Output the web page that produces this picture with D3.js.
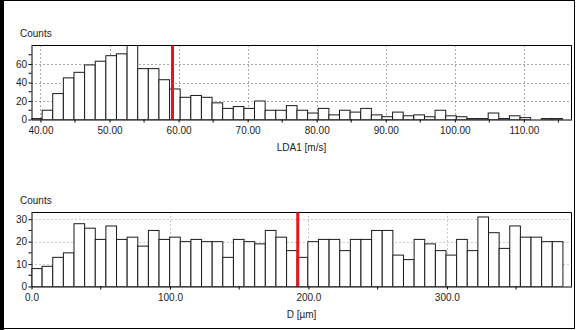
<!DOCTYPE html>
<html>
<head>
<meta charset="utf-8">
<script src="https://cdn.jsdelivr.net/npm/d3@7"></script>
<style>
  html, body { margin: 0; padding: 0; background: #fff; }
  svg { display: block; font-family: "Liberation Sans", Arial, sans-serif; }
  text { fill: #222; font-size: 10px; }
</style>
</head>
<body>
<svg id="chart" width="576" height="330"></svg>
<script>
// ---- Velocity histogram (LDA1) ----
const ldaBinStart = 38.7;      // m/s, lower edge of first bin
const ldaBinWidth = 1.538;     // m/s per bin
const ldaCounts = [1, 10, 28, 45, 51, 59, 63, 69, 71, 84, 55, 55, 43, 33, 24, 26, 24, 18, 12, 14,
                   12, 20, 10, 10, 15, 10, 7, 12, 5, 10, 8, 12, 5, 3, 8, 4, 5, 3, 10, 4,
                   3, 1, 1, 7, 1, 4, 2, 0, 1, 1];
const ldaMarker = 59.12;       // m/s
const ldaXDomain = [38.7, 116.9];
const ldaYMax = 80;
const ldaXMajor = [40, 50, 60, 70, 80, 90, 100, 110];
const ldaXMinor = [45, 55, 65, 75, 85, 95, 105, 115];
const ldaYMajor = [0, 20, 40, 60];
const ldaYMinor = [10, 30, 50, 70];

// ---- Diameter histogram (D) ----
const dBinStart = 0;           // µm
const dBinWidth = 7.676;       // µm per bin
const dCounts = [8, 9, 13, 15, 28, 26, 21, 27, 21, 22, 18, 25, 21, 22, 20, 21, 20, 20, 13, 21,
                 20, 19, 25, 22, 16, 13, 20, 21, 21, 16, 21, 21, 25, 25, 14, 12, 21, 19, 16, 14,
                 21, 16, 31, 24, 17, 27, 22, 22, 20, 20];
const dMarker = 192.3;         // µm
const dXDomain = [0, 390];
const dYMax = 33;
const dXMajor = [0, 100, 200, 300];
const dXMinor = [50, 150, 250, 350];
const dYMajor = [0, 10, 20, 30];
const dYMinor = [5, 15, 25];

const svg = d3.select("#chart");

// outer frame of the window
svg.append("rect").attr("x", 0.5).attr("y", 0.5).attr("width", 574).attr("height", 328)
  .attr("fill", "none").attr("stroke", "#000");
svg.append("rect").attr("x", 0).attr("y", 0).attr("width", 4).attr("height", 330).attr("fill", "#000");

function histogram(cfg) {
  const g = svg.append("g");
  const x = d3.scaleLinear().domain(cfg.xDomain).range([cfg.left, cfg.right]);
  const y = d3.scaleLinear().domain([0, cfg.yMax]).range([cfg.bottom, cfg.top]);
  const clipId = "clip-" + cfg.id;
  svg.append("clipPath").attr("id", clipId).append("rect")
    .attr("x", cfg.left).attr("y", cfg.top).attr("width", cfg.right - cfg.left).attr("height", cfg.bottom - cfg.top);

  // dotted grid behind the bars
  const grid = g.append("g").attr("stroke", cfg.gridColor).attr("stroke-dasharray", "1,3").attr("stroke-width", 1);
  grid.selectAll("line.v").data(cfg.xMajor.filter(v => x(v) > cfg.left + 2)).join("line")
    .attr("x1", d => Math.round(x(d)) + 0.5).attr("x2", d => Math.round(x(d)) + 0.5)
    .attr("y1", cfg.top).attr("y2", cfg.bottom);
  grid.selectAll("line.h").data(cfg.yMajor.filter(v => v > 0)).join("line")
    .attr("x1", cfg.left).attr("x2", cfg.right)
    .attr("y1", d => Math.round(y(d)) + 0.5).attr("y2", d => Math.round(y(d)) + 0.5);

  // bars
  const bins = cfg.counts.map((c, i) => ({ x0: cfg.binStart + i * cfg.binWidth, x1: cfg.binStart + (i + 1) * cfg.binWidth, c }));
  g.append("g").attr("clip-path", `url(#${clipId})`)
    .selectAll("rect").data(bins.filter(b => b.c > 0)).join("rect")
    .attr("x", d => x(d.x0)).attr("width", d => x(d.x1) - x(d.x0))
    .attr("y", d => y(d.c)).attr("height", d => y(0) - y(d.c))
    .attr("fill", "#fff").attr("stroke", "#1a1a1a").attr("stroke-width", 1);

  // plot frame (top and right edges)
  g.append("path")
    .attr("d", `M${cfg.left},${cfg.top}H${cfg.right}V${cfg.bottom}`)
    .attr("fill", "none").attr("stroke", "#000");

  // marker line
  g.append("line")
    .attr("x1", x(cfg.marker)).attr("x2", x(cfg.marker))
    .attr("y1", cfg.top).attr("y2", cfg.bottom)
    .attr("stroke", "#e8161c").attr("stroke-width", 3);

  // x axis
  const xAxis = g.append("g").attr("transform", `translate(0,${cfg.bottom})`)
    .call(d3.axisBottom(x).tickValues(cfg.xMajor).tickFormat(d3.format(cfg.xFormat))
      .tickSizeInner(3).tickSizeOuter(0).tickPadding(4));
  xAxis.append("g").selectAll("line").data(cfg.xMinor.filter(v => v <= cfg.xDomain[1])).join("line")
    .attr("x1", d => x(d)).attr("x2", d => x(d)).attr("y1", 0).attr("y2", 3).attr("stroke", "#000");

  // y axis
  const yAxis = g.append("g").attr("transform", `translate(${cfg.left},0)`)
    .call(d3.axisLeft(y).tickValues(cfg.yMajor).tickFormat(d3.format("d"))
      .tickSizeInner(3).tickSizeOuter(0).tickPadding(1.5));
  yAxis.append("g").selectAll("line").data(cfg.yMinor).join("line")
    .attr("x1", -3).attr("x2", 0).attr("y1", d => y(d)).attr("y2", d => y(d)).attr("stroke", "#000");

  [xAxis, yAxis].forEach(a => {
    a.selectAll("text").attr("fill", "#222").style("font-size", "10px").style("font-family", "Liberation Sans, Arial, sans-serif");
    a.selectAll(".domain, line").attr("stroke", "#000");
  });

  // titles
  g.append("text").attr("x", 20).attr("y", cfg.top - 9).text("Counts");
  g.append("text").attr("x", (cfg.left + cfg.right) / 2).attr("y", cfg.bottom + 31)
    .attr("text-anchor", "middle").text(cfg.xTitle);
}

histogram({
  id: "lda", left: 31.5, right: 571.5, top: 45.5, bottom: 119.5,
  xDomain: ldaXDomain, yMax: ldaYMax, counts: ldaCounts, binStart: ldaBinStart, binWidth: ldaBinWidth,
  marker: ldaMarker, xMajor: ldaXMajor, xMinor: ldaXMinor, yMajor: ldaYMajor, yMinor: ldaYMinor,
  xFormat: ".2f", xTitle: "LDA1 [m/s]", gridColor: "#555"
});

histogram({
  id: "dia", left: 31.5, right: 571.5, top: 212.5, bottom: 286.5,
  xDomain: dXDomain, yMax: dYMax, counts: dCounts, binStart: dBinStart, binWidth: dBinWidth,
  marker: dMarker, xMajor: dXMajor, xMinor: dXMinor, yMajor: dYMajor, yMinor: dYMinor,
  xFormat: ".1f", xTitle: "D [µm]", gridColor: "#999"
});
</script>
</body>
</html>
